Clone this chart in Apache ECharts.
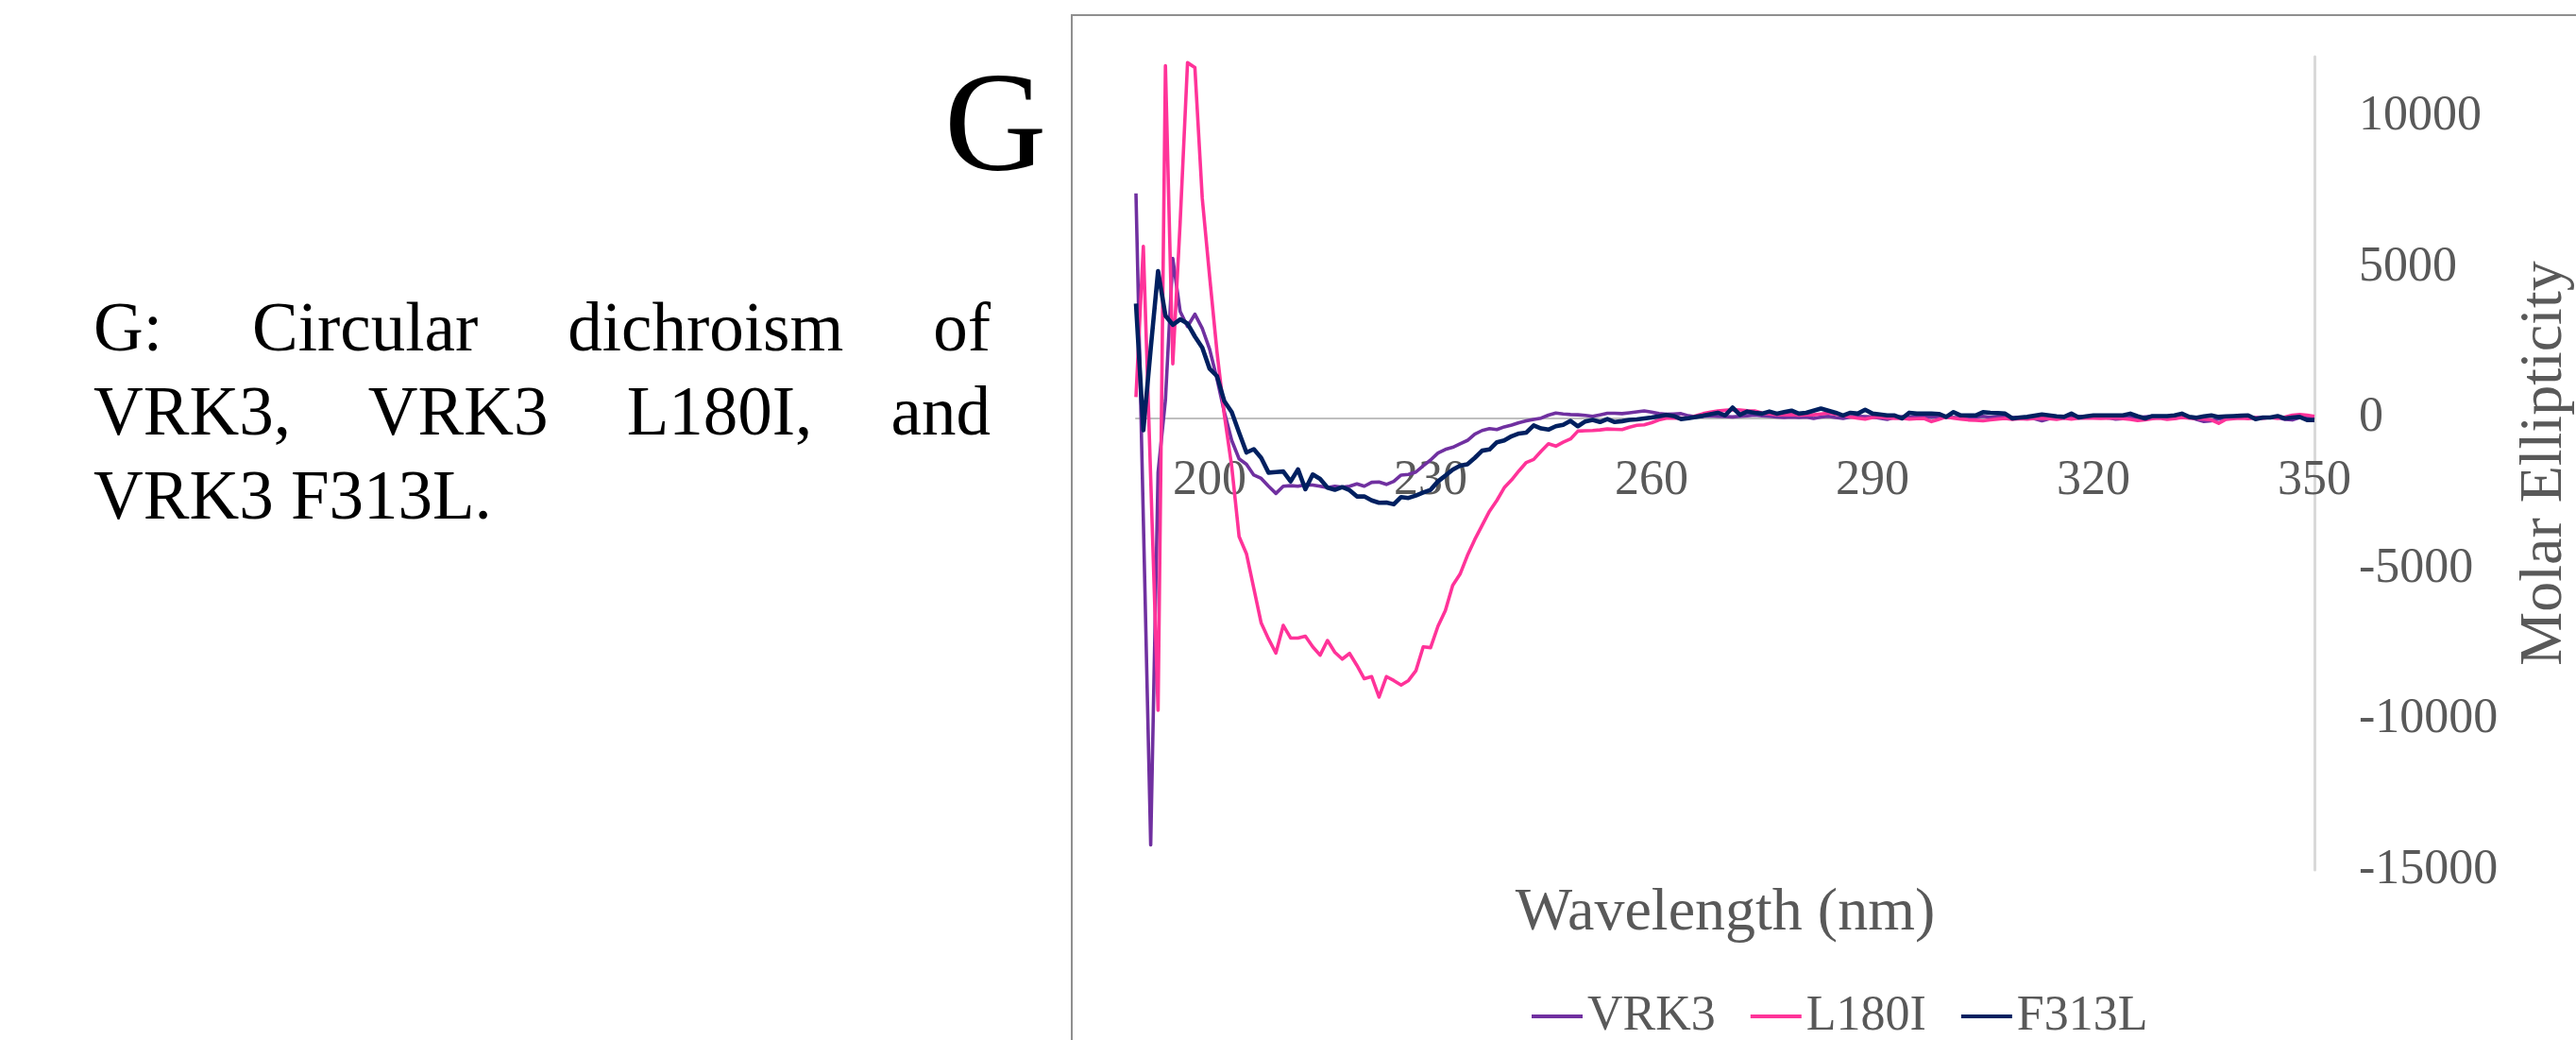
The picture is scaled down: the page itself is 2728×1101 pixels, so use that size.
<!DOCTYPE html>
<html>
<head>
<meta charset="utf-8">
<script src="https://cdn.jsdelivr.net/npm/echarts@6/dist/echarts.min.js"></script>
<style>
html,body{margin:0;padding:0;width:2728px;height:1101px;overflow:hidden;background:#fff;font-family:"Liberation Serif","Times New Roman",serif;}
#letter{position:absolute;left:1000px;top:54px;font-size:150px;line-height:150px;color:#000;}
#caption{position:absolute;left:99px;top:302px;width:950px;font-size:73px;line-height:89px;color:#000;}
#caption .j{text-align:justify;text-align-last:justify;}
#chart{position:absolute;left:1134px;top:15px;width:1620px;height:1120px;border:2px solid #8f8f8f;}
</style>
</head>
<body>
<div id="letter">G</div>
<div id="caption">
<div class="j">G: Circular dichroism of</div>
<div class="j">VRK3, VRK3 L180I, and</div>
<div>VRK3 F313L.</div>
</div>
<div id="chart"></div>
<script>
const wavelength = [
190,191,192,193,194,195,196,197,198,199,
200,201,202,203,204,205,206,207,208,209,
210,211,212,213,214,215,216,217,218,219,
220,221,222,223,224,225,226,227,228,229,
230,231,232,233,234,235,236,237,238,239,
240,241,242,243,244,245,246,247,248,249,
250,251,252,253,254,255,256,257,258,259,
260,261,262,263,264,265,266,267,268,269,
270,271,272,273,274,275,276,277,278,279,
280,281,282,283,284,285,286,287,288,289,
290,291,292,293,294,295,296,297,298,299,
300,301,302,303,304,305,306,307,308,309,
310,311,312,313,314,315,316,317,318,319,
320,321,322,323,324,325,326,327,328,329,
330,331,332,333,334,335,336,337,338,339,
340,341,342,343,344,345,346,347,348,349,
350];

const seriesNames = ['VRK3', 'L180I', 'F313L'];

const vrk3 = [
7460,-3350,-14170,-1800,600,5300,3540,3040,3450,2980,
2290,1300,200,-740,-1350,-1530,-1890,-2000,-2260,-2500,
-2260,-2240,-2260,-2210,-2220,-2260,-2310,-2260,-2290,-2260,
-2180,-2260,-2130,-2120,-2200,-2100,-1890,-1870,-1790,-1580,
-1390,-1160,-1040,-970,-850,-740,-530,-410,-350,-380,
-290,-230,-150,-90,-40,0,100,170,140,120,
110,90,60,110,160,160,150,180,210,240,
200,150,130,140,150,80,40,60,80,60,
50,40,60,80,100,80,60,40,20,40,
20,40,-10,40,60,20,-10,40,60,50,
40,0,-40,30,50,30,60,50,30,50,
40,20,30,50,40,60,30,60,40,20,
30,10,-20,-90,-20,40,60,70,60,40,
30,40,10,-30,-20,30,20,40,60,50,
20,0,30,40,-40,-110,-90,-30,20,40,
30,10,20,0,30,20,-40,-60,20,10,
0];

const l180i = [
700,5700,-2000,-9700,11700,1800,6500,11800,11640,7300,
4700,2200,100,-1600,-3930,-4500,-5650,-6800,-7330,-7800,
-6880,-7300,-7300,-7240,-7590,-7870,-7380,-7770,-8000,-7810,
-8210,-8650,-8580,-9260,-8580,-8710,-8860,-8710,-8390,-7590,
-7620,-6910,-6390,-5550,-5180,-4560,-4030,-3560,-3090,-2730,
-2310,-2050,-1750,-1470,-1370,-1100,-850,-930,-800,-690,
-430,-420,-410,-390,-360,-370,-380,-300,-240,-220,
-150,-60,0,10,0,-10,80,150,200,240,
260,280,270,250,240,170,140,120,110,120,
100,110,110,140,170,130,90,40,0,-30,
20,40,10,-10,0,-30,-20,-10,-115,-40,
40,0,-30,-60,-70,-90,-60,-30,-10,-40,
-20,-30,-10,0,-20,-40,0,-30,0,10,
0,-10,0,10,-20,-40,-80,-60,-20,0,
-40,-20,20,0,-20,-30,-60,-170,-40,-20,
0,-20,10,0,20,-10,40,100,120,100,
60];

const f313l = [
3800,-400,2300,4880,3400,3100,3280,3140,2710,2340,
1640,1400,560,200,-480,-1140,-1030,-1320,-1810,-1790,
-1770,-2100,-1700,-2360,-1870,-2020,-2310,-2380,-2290,-2390,
-2600,-2600,-2730,-2810,-2800,-2860,-2620,-2650,-2570,-2470,
-2380,-2100,-1910,-1710,-1580,-1530,-1320,-1080,-1040,-800,
-740,-600,-510,-480,-240,-340,-380,-270,-220,-90,
-270,-110,-60,-130,-30,-130,-100,-60,-40,-10,
20,60,110,70,-30,0,40,80,130,180,
90,350,110,220,180,150,220,150,200,250,
150,180,250,320,250,180,90,180,150,280,
150,120,90,90,-10,180,150,150,150,140,
40,200,90,90,90,200,180,170,150,-10,
20,40,80,120,90,60,40,150,20,60,
90,90,90,90,90,150,60,-10,70,70,
70,90,150,40,10,60,90,40,60,70,
80,90,-30,20,20,70,-10,20,40,-60,
-60];

const xTickLabels = [200, 230, 260, 290, 320, 350];
const yMin = -15000, yMax = 12000, yStep = 5000;

const colors = ['#7030A0', '#FF3399', '#002060'];
const widths = [3.6, 3.6, 4.6];
const values = [vrk3, l180i, f313l];

const chart = echarts.init(document.getElementById('chart'), null, {renderer: 'canvas'});
const font = 'Liberation Serif';
chart.setOption({
  animation: false,
  textStyle: {fontFamily: font},
  grid: {left: 67, top: 43, width: 1248, height: 861, containLabel: false, outerBoundsMode: 'none'},
  legend: {
    data: seriesNames,
    left: 481, top: 1028,
    icon: 'rect', itemWidth: 54, itemHeight: 4, itemGap: 37,
    textStyle: {fontSize: 52, color: '#595959', fontFamily: font}
  },
  xAxis: {
    type: 'category',
    data: wavelength.map(String),
    boundaryGap: false,
    name: 'Wavelength (nm)',
    nameLocation: 'middle',
    nameGap: 14,
    nameTextStyle: {fontSize: 64, color: '#595959', fontFamily: font},
    axisLine: {onZero: true, lineStyle: {color: '#bfbfbf', width: 2}},
    axisTick: {show: false},
    splitLine: {show: false},
    axisLabel: {
      interval: function (i, v) { return xTickLabels.indexOf(Number(v)) >= 0; },
      fontSize: 52, color: '#595959', margin: -438, fontFamily: font
    }
  },
  yAxis: {
    type: 'value',
    position: 'right',
    min: yMin, max: yMax, interval: yStep,
    name: 'Molar Ellipticity',
    nameLocation: 'middle',
    nameRotate: 90,
    nameGap: 212,
    nameTextStyle: {fontSize: 64, color: '#595959', fontFamily: font},
    axisLine: {show: true, onZero: false, lineStyle: {color: '#d9d9d9', width: 3}},
    axisTick: {show: false},
    splitLine: {show: false},
    axisLabel: {
      showMaxLabel: false,
      formatter: function (v) { return String(v); },
      fontSize: 52, color: '#595959', margin: 47, fontFamily: font
    }
  },
  series: seriesNames.map(function (n, k) {
    return {
      name: n, type: 'line', data: values[k],
      showSymbol: false, symbol: 'none',
      color: colors[k],
      lineStyle: {color: colors[k], width: widths[k], join: 'round'}
    };
  })
});
</script>
</body>
</html>
